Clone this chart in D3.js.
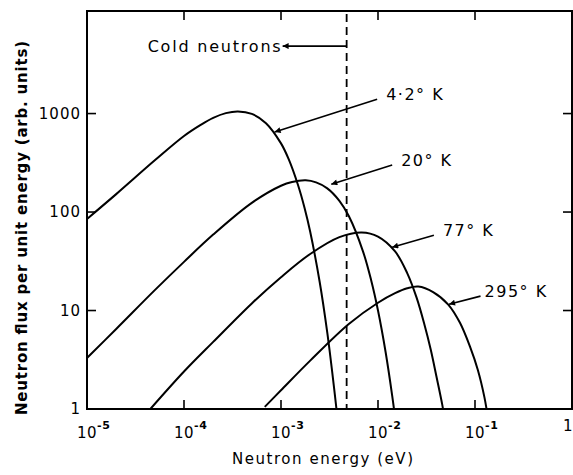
<!DOCTYPE html>
<html>
<head>
<meta charset="utf-8">
<script src="https://cdn.jsdelivr.net/npm/d3@7"></script>
<style>
  html, body { margin: 0; padding: 0; background: #fff; }
  #chart { width: 573px; height: 475px; overflow: hidden; }
  text { font-family: "DejaVu Sans", sans-serif; fill: #000; }
</style>
</head>
<body>
<div id="chart"></div>
<script>
// values (energy in eV, flux in arb. units)
const energy4K = [1e-5, 2e-5, 5e-5, 1e-4, 1.5e-4, 2e-4, 2.7e-4, 3.6e-4, 5e-4, 7e-4, 1e-3, 1.2e-3, 1.5e-3, 1.75e-3, 2e-3, 2.5e-3, 3e-3, 3.5e-3, 3.8e-3];
const flux4K = [85, 152, 335, 592, 772, 905, 1010, 1050, 991, 798, 498, 344, 187, 110, 63, 19.7, 5.95, 1.74, 0.85];

const energy20K = [1e-5, 2e-5, 5e-5, 1e-4, 2e-4, 5e-4, 1e-3, 1.3e-3, 1.8e-3, 2.3e-3, 3e-3, 4e-3, 5e-3, 7e-3, 8.5e-3, 1e-2, 1.2e-2, 1.4e-2, 1.5e-2];
const flux20K = [3.3, 6.5, 16.1, 31.2, 59, 124, 185, 202, 210, 200, 174, 130, 91, 39.9, 20.3, 10.0, 3.75, 1.37, 0.82];

const energy77K = [4.5e-5, 1e-4, 2e-4, 5e-4, 1e-3, 2e-3, 4e-3, 6.8e-3, 1e-2, 1.5e-2, 2e-2, 2.5e-2, 3e-2, 3.5e-2, 4e-2, 4.6e-2, 5.1e-2];
const flux77K = [1.0, 2.4, 4.8, 11.8, 21.8, 37.5, 55.6, 62, 56.3, 39.8, 24, 13.5, 7.3, 4.0, 2.15, 1.1, 0.6];

const energy295K = [6.8e-4, 1e-3, 2e-3, 5e-3, 1e-2, 1.5e-2, 2e-2, 2.6e-2, 3.7e-2, 5.3e-2, 7e-2, 8.9e-2, 0.107, 0.125, 0.135];
const flux295K = [1.05, 1.55, 3.1, 7.3, 12.0, 15.0, 16.8, 17.5, 15.4, 11.5, 7.5, 4.27, 2.49, 1.32, 0.85];

const xTickPowers = [-5, -4, -3, -2, -1, 0];
const yTickValues = [1, 10, 100, 1000];

const curveLabels = ["4·2° K", "20° K", "77° K", "295° K"];
// arrow tail / tip for each label, in data units
const labelTail = [[9.8e-3, 1400], [1.4e-2, 300], [3.77e-2, 58], [0.114, 14]];
const labelTip = [[8.6e-4, 650], [3.3e-3, 192], [1.4e-2, 44], [5.4e-2, 11.6]];

const coldLimit = 4.75e-3;
const coldArrow = [[4.75e-3, 4840], [1.04e-3, 4840]];

(function () {
  const width = 573;
  const height = 475;
  const left = 87, right = 572, top = 11, bottom = 409;

  const x = d3.scaleLog([1e-5, 1], [left, right]);
  const y = d3.scaleLog([1, 11000], [bottom, top]);

  const svg = d3.create('svg')
    .attr('width', width)
    .attr('height', height)
    .attr('viewBox', [0, 0, width, height]);

  svg.append('defs').append('clipPath')
    .attr('id', 'plot-clip')
    .append('rect')
      .attr('x', left).attr('y', top)
      .attr('width', right - left).attr('height', bottom - top);

  svg.select('defs').append('marker')
    .attr('id', 'arrow')
    .attr('viewBox', '0 0 10 10')
    .attr('refX', 10).attr('refY', 5)
    .attr('markerUnits', 'userSpaceOnUse')
    .attr('markerWidth', 9).attr('markerHeight', 6)
    .attr('orient', 'auto')
    .append('path')
      .attr('d', 'M0,0 L10,5 L0,10 z')
      .attr('fill', '#000');

  // frame
  svg.append('rect')
    .attr('x', left).attr('y', top)
    .attr('width', right - left).attr('height', bottom - top)
    .attr('fill', 'none')
    .attr('stroke', '#000')
    .attr('stroke-width', 2);

  const tickLen = 9;
  const innerX = xTickPowers.filter(p => p > -5 && p < 0);
  const innerY = yTickValues.filter(v => v > 1);

  const ticks = svg.append('g').attr('stroke', '#000').attr('stroke-width', 1.6);
  innerX.forEach(function (p) {
    const px = x(Math.pow(10, p));
    ticks.append('line').attr('x1', px).attr('x2', px).attr('y1', bottom).attr('y2', bottom - tickLen);
    ticks.append('line').attr('x1', px).attr('x2', px).attr('y1', top).attr('y2', top + tickLen);
  });
  innerY.forEach(function (v) {
    const py = y(v);
    ticks.append('line').attr('x1', left).attr('x2', left + tickLen).attr('y1', py).attr('y2', py);
    ticks.append('line').attr('x1', right).attr('x2', right - tickLen).attr('y1', py).attr('y2', py);
  });

  // x tick labels
  xTickPowers.forEach(function (p) {
    const px = x(Math.pow(10, p));
    if (p === 0) {
      svg.append('text').attr('x', px - 9).attr('y', 431)
        .attr('font-size', 15).text('1');
      return;
    }
    const t = svg.append('text')
      .attr('x', px - 10).attr('y', 438)
      .attr('font-size', 15)
      .attr('letter-spacing', 0.5);
    t.append('tspan').text('10');
    t.append('tspan').attr('dy', -9).attr('font-size', 11).attr('font-weight', 'bold').text(String(p));
  });

  // y tick labels
  yTickValues.forEach(function (v) {
    svg.append('text')
      .attr('x', 81).attr('y', y(v))
      .attr('dy', '0.36em')
      .attr('text-anchor', 'end')
      .attr('font-size', 15)
      .attr('letter-spacing', 1)
      .text(v);
  });

  // axis titles
  svg.append('text')
    .attr('x', 232).attr('y', 464)
    .attr('font-size', 15)
    .attr('textLength', 181)
    .attr('lengthAdjust', 'spacing')
    .text('Neutron energy (eV)');

  svg.append('text')
    .attr('transform', 'translate(27,415) rotate(-90)')
    .attr('font-size', 15)
    .attr('font-weight', 'bold')
    .attr('textLength', 374)
    .attr('lengthAdjust', 'spacing')
    .text('Neutron flux per unit energy (arb. units)');

  // spectra
  const line = d3.line()
    .x(d => x(d[0]))
    .y(d => y(d[1]))
    .curve(d3.curveCatmullRom.alpha(0.5));

  const series = [
    d3.zip(energy4K, flux4K),
    d3.zip(energy20K, flux20K),
    d3.zip(energy77K, flux77K),
    d3.zip(energy295K, flux295K)
  ];

  svg.append('g')
    .attr('clip-path', 'url(#plot-clip)')
    .selectAll('path')
    .data(series)
    .join('path')
      .attr('d', line)
      .attr('fill', 'none')
      .attr('stroke', '#000')
      .attr('stroke-width', 2);

  // cold neutron limit
  svg.append('line')
    .attr('x1', x(coldLimit)).attr('x2', x(coldLimit))
    .attr('y1', top + 3).attr('y2', bottom)
    .attr('stroke', '#000')
    .attr('stroke-width', 1.8)
    .attr('stroke-dasharray', '8,5');

  svg.append('line')
    .attr('x1', x(coldArrow[0][0])).attr('y1', y(coldArrow[0][1]))
    .attr('x2', x(coldArrow[1][0])).attr('y2', y(coldArrow[1][1]))
    .attr('stroke', '#000')
    .attr('stroke-width', 1.6)
    .attr('marker-end', 'url(#arrow)');

  svg.append('text')
    .attr('x', x(coldArrow[1][0]) - 2)
    .attr('y', y(coldArrow[1][1]) + 6)
    .attr('text-anchor', 'end')
    .attr('font-size', 16)
    .attr('textLength', 133)
    .attr('lengthAdjust', 'spacing')
    .text('Cold neutrons');

  // curve labels
  curveLabels.forEach(function (label, i) {
    const tail = labelTail[i];
    const tip = labelTip[i];
    svg.append('line')
      .attr('x1', x(tail[0])).attr('y1', y(tail[1]))
      .attr('x2', x(tip[0])).attr('y2', y(tip[1]))
      .attr('stroke', '#000')
      .attr('stroke-width', 1.6)
      .attr('marker-end', 'url(#arrow)');
    svg.append('text')
      .attr('x', x(tail[0]) + (i === 3 ? 4 : 9))
      .attr('y', y(tail[1]) + 1)
      .attr('font-size', 16)
      .attr('letter-spacing', 1.5)
      .text(label);
  });

  d3.select('#chart')
    .node()
    .appendChild(svg.node());
})();
</script>
</body>
</html>
